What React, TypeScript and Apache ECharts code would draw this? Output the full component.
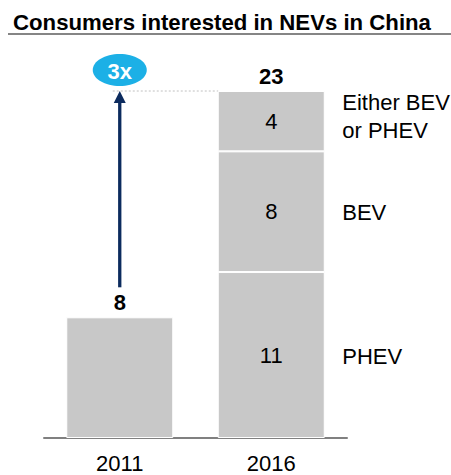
import React, { useEffect, useRef } from "react";
import * as echarts from "echarts";

const FONT = '"Liberation Sans", Arial, sans-serif';

const titleText = "Consumers interested in NEVs in China";
const categories = ["2011", "2016"];
const allConsumers = [8, "-"];
const phevValues = ["-", 11];
const bevValues = ["-", 8];
const eitherValues = ["-", 4];
const totals = [8, 23];
const segmentNames = ["PHEV", "BEV", "Either BEV\nor PHEV"];
const growthLabel = "3x";

const BAR_GRAY = "#c8c8c8";
const FS = 22;

export default function App() {
  const ref = useRef<HTMLDivElement>(null);

  useEffect(() => {
    document.body.style.margin = "0";
    const chart = echarts.init(ref.current!, null, { renderer: "svg" });

    const segLabel = {
      show: true,
      position: "inside",
      fontSize: FS,
      color: "#000",
      fontFamily: FONT,
    };
    const barBase = {
      type: "bar",
      stack: "total",
      barWidth: 107,
      itemStyle: { color: BAR_GRAY, borderColor: "#ffffff", borderWidth: 1 },
    };

    chart.setOption({
      animation: false,
      title: {
        text: titleText,
        left: 8,
        top: 6,
        textStyle: { fontSize: 22.2, fontWeight: "bold", color: "#000", fontFamily: FONT },
      },
      grid: { left: 44, right: 104, top: 91, bottom: 37 },
      xAxis: {
        type: "category",
        data: categories,
        axisLine: { lineStyle: { color: "#808080", width: 2 } },
        axisTick: { show: false },
        axisLabel: { fontSize: FS, color: "#000", margin: 14, fontFamily: FONT },
      },
      yAxis: { type: "value", min: 0, max: 23, show: false },
      series: [
        { ...barBase, name: "All", data: allConsumers, label: { show: false } },
        { ...barBase, name: "PHEV", data: phevValues, label: segLabel },
        { ...barBase, name: "BEV", data: bevValues, label: segLabel },
        { ...barBase, name: "Either", data: eitherValues, label: segLabel },
        {
          type: "bar",
          stack: "total",
          name: "Total",
          barWidth: 107,
          data: totals.map(() => 0),
          itemStyle: { color: "transparent" },
          label: {
            show: true,
            position: "top",
            distance: 4,
            fontSize: FS,
            fontWeight: "bold",
            color: "#000",
            fontFamily: FONT,
            formatter: (p: any) => String(totals[p.dataIndex]),
          },
        },
      ],
    });

    const px = (cat: string, v: number) =>
      chart.convertToPixel({ gridIndex: 0 }, [cat, v]) as number[];

    const [ax, yTop] = px(categories[0], totals[1]);
    const [, y2011] = px(categories[0], totals[0]);
    const [bx] = px(categories[1], 0);

    const mids = [(0 + 11) / 2, 11 + 8 / 2, 11 + 8 + 4 / 2];
    const rightTexts = segmentNames.map((name, i) => {
      const [, y] = px(categories[1], mids[i]);
      return {
        type: "text",
        x: bx + 71,
        y: i === 2 ? y - 5 : y + 1,
        style: {
          text: name,
          fontSize: FS,
          fontFamily: FONT,
          fill: "#000",
          align: "left",
          verticalAlign: "middle",
          lineHeight: 28,
        },
      };
    });

    chart.setOption({
      graphic: [
        {
          type: "line",
          shape: { x1: 8, y1: 34, x2: 451, y2: 34 },
          style: { stroke: "#858585", lineWidth: 2 },
        },
        {
          type: "line",
          shape: { x1: ax - 7, y1: yTop, x2: bx - 53, y2: yTop },
          style: { stroke: "#c0c0c0", lineWidth: 1, lineDash: [2, 2] },
        },
        {
          type: "line",
          shape: { x1: ax, y1: y2011 - 30, x2: ax, y2: yTop + 10 },
          style: { stroke: "#0c2b5e", lineWidth: 3.3 },
        },
        {
          type: "polygon",
          shape: { points: [[ax, yTop], [ax - 6, yTop + 12], [ax + 6, yTop + 12]] },
          style: { fill: "#0c2b5e" },
        },
        {
          type: "ellipse",
          shape: { cx: ax, cy: yTop - 21, rx: 27, ry: 16 },
          style: { fill: "#1cb0e6" },
        },
        {
          type: "text",
          x: ax,
          y: yTop - 20,
          style: {
            text: growthLabel,
            fontSize: FS,
            fontWeight: "bold",
            fontFamily: FONT,
            fill: "#fff",
            align: "center",
            verticalAlign: "middle",
          },
        },
        ...rightTexts,
      ],
    });

    return () => chart.dispose();
  }, []);

  return <div ref={ref} style={{ width: 451, height: 475 }} />;
}
